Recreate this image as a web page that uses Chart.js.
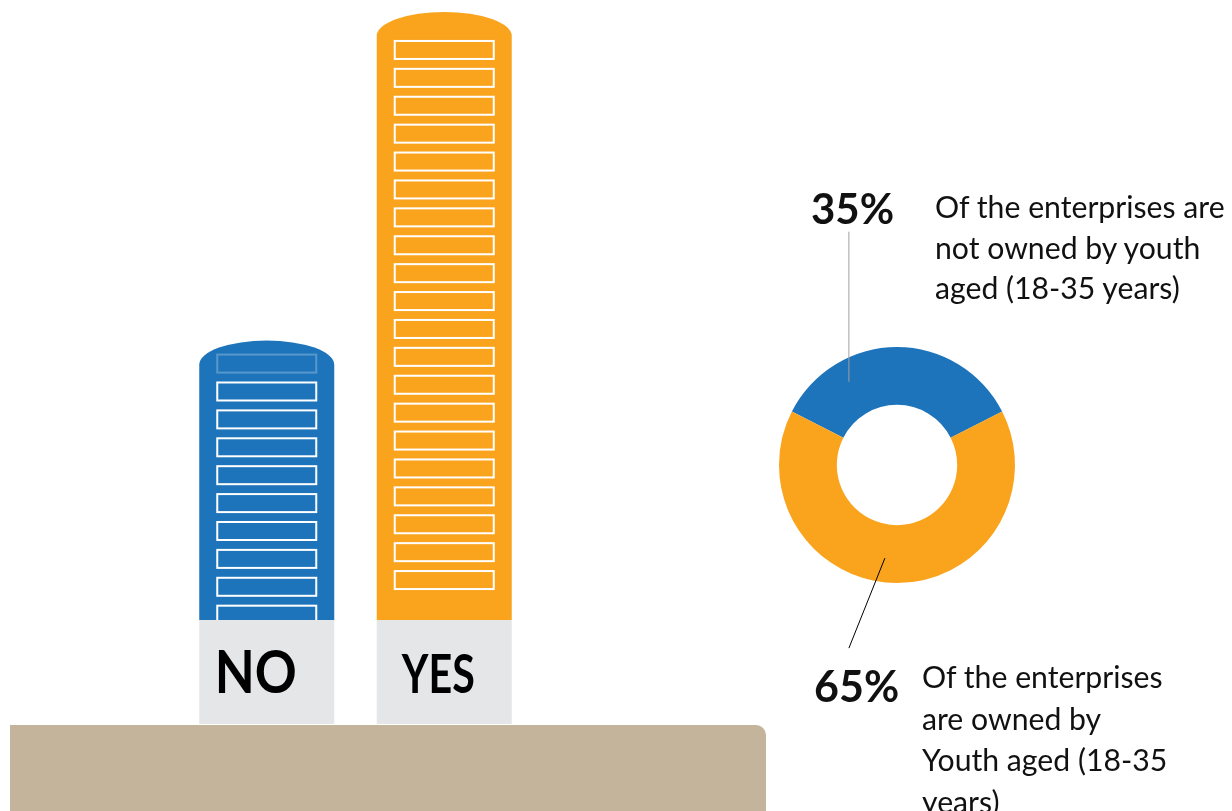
<!DOCTYPE html>
<html>
<head>
<meta charset="utf-8">
<script src="https://cdn.jsdelivr.net/npm/chart.js@4.4.1/dist/chart.umd.min.js"></script>
<style>
  html, body { margin: 0; padding: 0; background: #fff; }
  body { width: 1232px; height: 811px; overflow: hidden; position: relative; font-family: "Lato", "Noto Sans", sans-serif; color: #111; }
  #bars { position: absolute; left: 0; top: 0; }
  #donut { position: absolute; left: 700px; top: 150px; }
  .pct { position: absolute; font-weight: 700; white-space: nowrap; }
  .note { position: absolute; font-size: 30.2px; white-space: nowrap; }
</style>
</head>
<body>
<canvas id="bars" width="780" height="811"></canvas>
<canvas id="donut" width="400" height="560"></canvas>

<div class="pct" id="pctNo" style="left:811px; top:187px; font-size:42px; line-height:42px;"></div>
<div class="note" style="left:935px; top:186px; line-height:40.5px;">Of the enterprises are<br>not owned by youth<br>aged (18-35 years)</div>
<div class="pct" id="pctYes" style="left:814px; top:664px; font-size:43px; line-height:43px;"></div>
<div class="note" style="left:922px; top:656px; line-height:41.7px;">Of the enterprises<br>are owned by<br>Youth aged (18-35<br>years)</div>

<script>
// youth ownership of enterprises, in percent
const ownedLabels = ["NO", "YES"];
const ownedShares = [35, 65];
const shareColors = ["#1e74bb", "#faa41e"];

document.getElementById("pctNo").textContent = ownedShares[0] + "%";
document.getElementById("pctYes").textContent = ownedShares[1] + "%";

// tan ground strip under the buildings
const groundPlugin = {
  id: "ground",
  beforeDatasetsDraw(chart, args, opts) {
    const ctx = chart.ctx;
    const top = chart.chartArea.bottom + 1;
    ctx.save();
    ctx.fillStyle = opts.color;
    ctx.beginPath();
    ctx.roundRect(opts.left, top, opts.right - opts.left, chart.height - top + 20, [0, 10, 0, 0]);
    ctx.fill();
    ctx.restore();
  },
};

// each bar is drawn as a tower: domed roof, rows of windows, grey name plate
const towerPlugin = {
  id: "towers",
  beforeDatasetDraw(chart, args, opts) {
    const ctx = chart.ctx;
    args.meta.data.forEach((bar, i) => {
      const { x, y, base, width } = bar.getProps(["x", "y", "base", "width"], true);
      const left = x - width / 2;
      const right = x + width / 2;
      const plateTop = base - opts.plateHeight;

      ctx.save();
      ctx.beginPath();
      ctx.moveTo(left, plateTop);
      ctx.lineTo(left, y + opts.domeHeight);
      ctx.ellipse(x, y + opts.domeHeight, width / 2, opts.domeHeight, 0, Math.PI, 2 * Math.PI);
      ctx.lineTo(right, plateTop);
      ctx.closePath();
      ctx.fillStyle = bar.options.backgroundColor;
      ctx.fill();
      ctx.clip();

      ctx.strokeStyle = "#ffffff";
      ctx.lineWidth = 2;
      for (let k = 0; k < opts.windowRows[i]; k++) {
        const wy = y + opts.windowStart[i] + k * opts.windowStep;
        ctx.globalAlpha = k === 0 && opts.fadeFirst[i] ? 0.25 : 1;
        ctx.strokeRect(left + opts.windowInset, wy + 1, width - 2 * opts.windowInset, opts.windowHeight);
      }
      ctx.restore();

      ctx.save();
      ctx.fillStyle = opts.plateColor;
      ctx.fillRect(left, plateTop, width, opts.plateHeight);
      ctx.fillStyle = "#000";
      ctx.textAlign = "center";
      ctx.textBaseline = "alphabetic";
      ctx.font = "700 " + opts.labelSize[i] + "px Lato, 'Noto Sans', sans-serif";
      ctx.fillText(chart.data.labels[i], x + opts.labelShift[i], base - 31, opts.labelWidth[i]);
      ctx.restore();
    });
    return false;
  },
};

new Chart(document.getElementById("bars"), {
  type: "bar",
  data: {
    labels: ownedLabels,
    datasets: [{
      data: ownedShares,
      backgroundColor: shareColors,
      barThickness: 135,
    }],
  },
  options: {
    responsive: false,
    animation: false,
    events: [],
    layout: { padding: { left: 178, right: 247, top: 1, bottom: 87 } },
    scales: {
      x: { display: false },
      y: { display: false, min: 0, max: 66 },
    },
    plugins: {
      legend: { display: false },
      tooltip: { enabled: false },
      ground: { color: "#c3b49b", left: 10, right: 766 },
      towers: {
        domeHeight: 24,
        plateHeight: 104,
        plateColor: "#e5e6e8",
        windowInset: 18,
        windowHeight: 18,
        windowStep: 27.9,
        windowStart: [13, 28],
        windowRows: [10, 20],
        fadeFirst: [true, false],
        labelSize: [60, 53],
        labelWidth: [82, 73],
        labelShift: [-11, -6],
      },
    },
  },
  plugins: [groundPlugin, towerPlugin],
});

// thin pointer lines from the ring out to the percentage labels
const leaderPlugin = {
  id: "leaders",
  afterDatasetsDraw(chart, args, opts) {
    const ctx = chart.ctx;
    const arcs = chart.getDatasetMeta(0).data;
    opts.lines.forEach((l) => {
      const arc = arcs[l.index];
      const ang = (arc.startAngle + arc.endAngle) / 2 + (l.turn * Math.PI) / 180;
      const r = ((arc.innerRadius + arc.outerRadius) / 2) * l.depth;
      const ax = arc.x + Math.cos(ang) * r;
      const ay = arc.y + Math.sin(ang) * r;
      ctx.save();
      ctx.strokeStyle = l.color;
      ctx.lineWidth = 1;
      ctx.beginPath();
      ctx.moveTo(ax, ay);
      ctx.lineTo(ax + l.dx, ay + l.dy);
      ctx.stroke();
      ctx.restore();
    });
  },
};

new Chart(document.getElementById("donut"), {
  type: "doughnut",
  data: {
    labels: ownedLabels,
    datasets: [{
      data: ownedShares,
      backgroundColor: shareColors,
      borderWidth: 0,
    }],
  },
  options: {
    responsive: false,
    animation: false,
    events: [],
    cutout: "51%",
    rotation: -(ownedShares[0] / 100) * 180,
    layout: { padding: { left: 79, right: 85, top: 197, bottom: 127 } },
    plugins: {
      legend: { display: false },
      tooltip: { enabled: false },
      leaders: {
        lines: [
          { index: 0, turn: -30, depth: 1.08, dx: 0, dy: -150, color: "#a0a0a0" },
          { index: 1, turn: 7.4, depth: 1.054, dx: -36, dy: 90, color: "#000000" },
        ],
      },
    },
  },
  plugins: [leaderPlugin],
});
</script>
</body>
</html>
